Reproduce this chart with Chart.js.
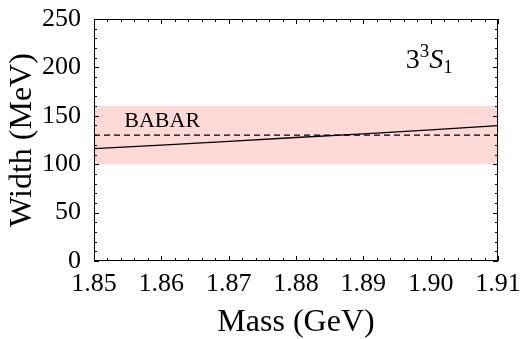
<!DOCTYPE html>
<html>
<head>
<meta charset="utf-8">
<script src="https://cdn.jsdelivr.net/npm/chart.js@4"></script>
<style>
  html, body { margin: 0; padding: 0; background: #fff; }
</style>
</head>
<body>
<canvas id="widthChart" width="521" height="339"></canvas>
<script>
// 数据
const massValues = [1.85, 1.86, 1.87, 1.88, 1.89, 1.90, 1.91];
const widthValues = [116, 119.8, 123.6, 127.6, 131.4, 135.4, 139.8];
const babarRange = [1.85, 1.91];
const babarCentral = 130;
const babarLow = 100;
const babarHigh = 160;
const xTicks = [1.85, 1.86, 1.87, 1.88, 1.89, 1.90, 1.91];
const yTicks = [0, 50, 100, 150, 200, 250];

const serif = "'Liberation Serif', 'DejaVu Serif', serif";

// 边框和向内的刻度
const framePlugin = {
    id: 'frame',
    afterDraw(chart) {
        const c = chart.ctx;
        const a = chart.chartArea;
        const xs = chart.scales.x;
        const ys = chart.scales.y;
        c.save();
        c.strokeStyle = '#000';
        c.lineWidth = 1;
        c.strokeRect(a.left + 0.5, a.top + 0.5, a.right - a.left - 1, a.bottom - a.top - 1);
        c.beginPath();
        // x 方向刻度
        for (let i = 0; i < xTicks.length; i++) {
            for (let k = 0; k < 5; k++) {
                if (i === xTicks.length - 1 && k > 0) break;
                const v = xTicks[i] + k * 0.002;
                const px = Math.round(xs.getPixelForValue(v)) + 0.5;
                const len = k === 0 ? 5 : 3;
                c.moveTo(px, a.bottom); c.lineTo(px, a.bottom - len);
                c.moveTo(px, a.top); c.lineTo(px, a.top + len);
            }
        }
        // y 方向刻度
        for (let i = 0; i < yTicks.length; i++) {
            for (let k = 0; k < 5; k++) {
                if (i === yTicks.length - 1 && k > 0) break;
                const v = yTicks[i] + k * 10;
                const py = Math.round(ys.getPixelForValue(v)) + 0.5;
                const len = k === 0 ? 5 : 3;
                c.moveTo(a.left, py); c.lineTo(a.left + len, py);
                c.moveTo(a.right, py); c.lineTo(a.right - len, py);
            }
        }
        c.stroke();

        // 标注文字
        c.fillStyle = '#000';
        c.textBaseline = 'alphabetic';
        c.textAlign = 'left';
        c.font = '22px ' + serif;
        c.fillText('BABAR', xs.getPixelForValue(1.8545), ys.getPixelForValue(138.6));

        let x = xs.getPixelForValue(1.8963);
        const y = ys.getPixelForValue(199.5);
        c.font = '28px ' + serif;
        c.fillText('3', x, y);
        x += c.measureText('3').width;
        c.font = '19px ' + serif;
        c.fillText('3', x, y - 11);
        x += c.measureText('3').width;
        c.font = 'italic 28px ' + serif;
        c.fillText('S', x, y);
        x += c.measureText('S').width;
        c.font = '19px ' + serif;
        c.fillText('1', x, y + 5);
        c.restore();
    }
};

const ctx = document.getElementById('widthChart');

new Chart(ctx, {
    type: 'line',
    data: {
        datasets: [
            {
                label: 'Width',
                data: massValues.map((m, i) => ({x: m, y: widthValues[i]})),
                borderColor: '#000',
                borderWidth: 1.3,
                pointRadius: 0,
                fill: false
            },
            {
                label: 'BABAR',
                data: babarRange.map(m => ({x: m, y: babarCentral})),
                borderColor: '#000',
                borderWidth: 1.2,
                borderDash: [6, 4],
                pointRadius: 0,
                fill: false
            },
            {
                label: 'BABAR band',
                data: babarRange.map(m => ({x: m, y: babarHigh})),
                borderWidth: 0,
                borderColor: 'rgba(0,0,0,0)',
                backgroundColor: 'rgb(255, 216, 216)',
                pointRadius: 0,
                fill: {value: babarLow}
            }
        ]
    },
    options: {
        responsive: false,
        animation: false,
        layout: {
            padding: {left: 0, right: 23, top: 19, bottom: 0}
        },
        plugins: {
            legend: {display: false},
            tooltip: {enabled: false}
        },
        scales: {
            x: {
                type: 'linear',
                min: 1.85,
                max: 1.91,
                afterFit(scale) {
                    scale.height = 78;
                    scale.paddingLeft = 0;
                    scale.paddingRight = 0;
                },
                grid: {display: false},
                border: {display: false},
                ticks: {
                    stepSize: 0.01,
                    padding: 0,
                    color: '#000',
                    maxRotation: 0,
                    font: {family: serif, size: 26},
                    callback: v => v.toFixed(2)
                },
                title: {
                    display: true,
                    text: 'Mass (GeV)',
                    color: '#000',
                    font: {family: serif, size: 32},
                    padding: {top: 0, bottom: -3}
                }
            },
            y: {
                min: 0,
                max: 250,
                afterFit(scale) {
                    scale.width = 94;
                    scale.paddingTop = 0;
                    scale.paddingBottom = 0;
                },
                grid: {display: false},
                border: {display: false},
                ticks: {
                    stepSize: 50,
                    padding: 5,
                    color: '#000',
                    font: {family: serif, size: 26}
                },
                title: {
                    display: true,
                    text: 'Width (MeV)',
                    color: '#000',
                    font: {family: serif, size: 32},
                    padding: {top: 3, bottom: 0}
                }
            }
        }
    },
    plugins: [framePlugin]
});
</script>
</body>
</html>
